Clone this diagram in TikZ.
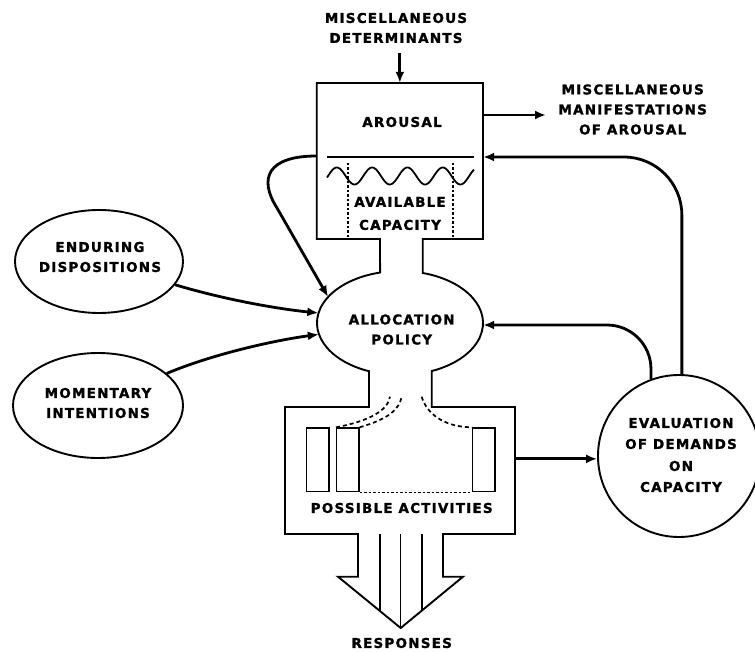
\documentclass[tikz,border=0pt]{standalone}
\usepackage{fontspec}
\newfontfamily\lblfont[LetterSpace=9, BoldFeatures={FakeBold=1.3}]{DejaVu Sans}
\usetikzlibrary{arrows.meta,shapes.geometric}
\begin{document}
\begin{tikzpicture}[x=1pt,y=-1pt,
  lbl/.style={font=\lblfont\bfseries\fontsize{13.5}{20}\selectfont, align=center, inner sep=0pt},
  outline/.style={line width=1.9pt, line join=miter},
  thinline/.style={line width=1.4pt},
  dashline/.style={line width=1.7pt, dash pattern=on 4pt off 3pt},
  dotline/.style={line width=1.6pt, dash pattern=on 2.5pt off 2pt},
  conn/.style={line width=2.8pt, -{Latex[length=11pt,width=9pt]}},
  slot/.style={draw, thinline, rectangle, minimum width=22.3pt, minimum height=63.7pt, inner sep=0pt}
]
\useasboundingbox (0,0) rectangle (755,652);

% anchor-only shapes
\node[rectangle, minimum width=166.3pt, minimum height=156pt, inner sep=0pt] (arousal) at (399.85,161) {};
\node[ellipse, minimum width=166pt, minimum height=104pt, inner sep=0pt] (alloc) at (400,323) {};
\node[rectangle, minimum width=230pt, minimum height=127pt, inner sep=0pt] (acts) at (400,470.5) {};

% drawn shapes
\node[ellipse, draw, outline, minimum width=168pt, minimum height=103pt, inner sep=0pt] (enduring) at (99,261.5) {};
\node[ellipse, draw, outline, minimum width=170pt, minimum height=105pt, inner sep=0pt] (momentary) at (98,405.5) {};
\node[circle, draw, outline, minimum size=162pt, inner sep=0pt] (eval) at (679,456) {};

% combined outline: arousal box, neck, allocation ellipse, activities box, response arrow
\draw[outline] (380,239) -- (316.7,239) -- (316.7,83) -- (483,83) -- (483,239) -- (422.7,239)
  -- ([shift={(400,323)}]-74.1:83 and 52) arc[start angle=-74.1, end angle=67.5, x radius=83, y radius=52]
  -- (431.7,407) -- (515,407) -- (515,534) -- (443,534) -- (443,576.7) -- (463,576.7)
  -- (400.7,628) -- (338,576.7) -- (358,576.7) -- (358,534) -- (285,534) -- (285,407) -- (369,407)
  -- ([shift={(400,323)}]111.9:83 and 52) arc[start angle=111.9, end angle=256.1, x radius=83, y radius=52]
  -- cycle;

% inside arousal box
\draw[outline] (327,157) -- (474,157);
\draw[line width=1.8pt] plot[domain=327:474, samples=160, smooth] (\x, {176 - 8.5*sin(10.198*(\x-328))});
\draw[dotline] (348,163) -- (348,239);
\draw[dotline] (452.7,163) -- (452.7,239);

% inside activities box
\node[slot] (s1) at (317.85,459.85) {};
\node[slot] (s2) at (347.85,459.85) {};
\node[slot] (s3) at (483.85,459.85) {};
\draw[dotline] (s2.south east) -- (s3.south west);
\draw[dashline] (s2.north west) .. controls (370,421) and (388,410) .. (390,396.7);
\draw[dashline] (s2.north east) .. controls (388,419) and (399,410) .. (401.7,396.7);
\draw[dashline] (421.7,396.7) .. controls (426,412) and (442,427) .. (s3.north west);

% lines in response arrow
\draw[thinline] (380,534) -- (380,611.1);
\draw[thinline] (400.7,534) -- (400.7,628);
\draw[thinline] (422,534) -- (422,610.5);

% labels
\node[lbl] (mdet) at (396,28) {MISCELLANEOUS\\DETERMINANTS};
\node[lbl] (mman) at (632.7,109.5) {MISCELLANEOUS\\MANIFESTATIONS\\OF AROUSAL};
\node[lbl] (arousaltxt) at (402,122) {AROUSAL};
\node[lbl] (availtxt) at (400,213.5) {AVAILABLE\\[3pt]CAPACITY};
\node[lbl] (alloctxt) at (401.7,329.5) {ALLOCATION\\POLICY};
\node[lbl] (endtxt) at (100,257) {ENDURING\\DISPOSITIONS};
\node[lbl] (momtxt) at (98,403) {MOMENTARY\\INTENTIONS};
\node[lbl] (acttxt) at (401.7,508) {POSSIBLE ACTIVITIES};
\node[lbl] (resptxt) at (401.7,643) {RESPONSES};
\node[lbl] (evaltxt) at (681,455) {EVALUATION\\[1pt]OF DEMANDS\\[2pt]ON\\[1pt]CAPACITY};

% connectors
\coordinate (manend) at (546,115);
\draw[conn] ([yshift=-10pt]arousal.north |- mdet.south) -- (arousal.north);
\draw[conn] (arousal.east |- manend) -- (manend);
\draw[conn, rounded corners=58pt] (eval.88) |- ([yshift=4pt]arousal.east);
\draw[conn, rounded corners=44pt] (eval.110.4) |- ([yshift=-2pt]alloc.east);
\draw[conn] (acts.east |- eval.182.8) -- (eval.182.8);
\draw[conn] (enduring.-17) .. controls +(50,15) and +(-40,-4) .. (alloc.173);
\draw[conn] (momentary.25) .. controls +(45,-19) and +(-45,6) .. (alloc.188);
\draw[conn] ([yshift=5pt]arousal.west) .. controls (268,156) and (258,178) .. (277,208) -- (alloc.160);
\end{tikzpicture}
\end{document}
